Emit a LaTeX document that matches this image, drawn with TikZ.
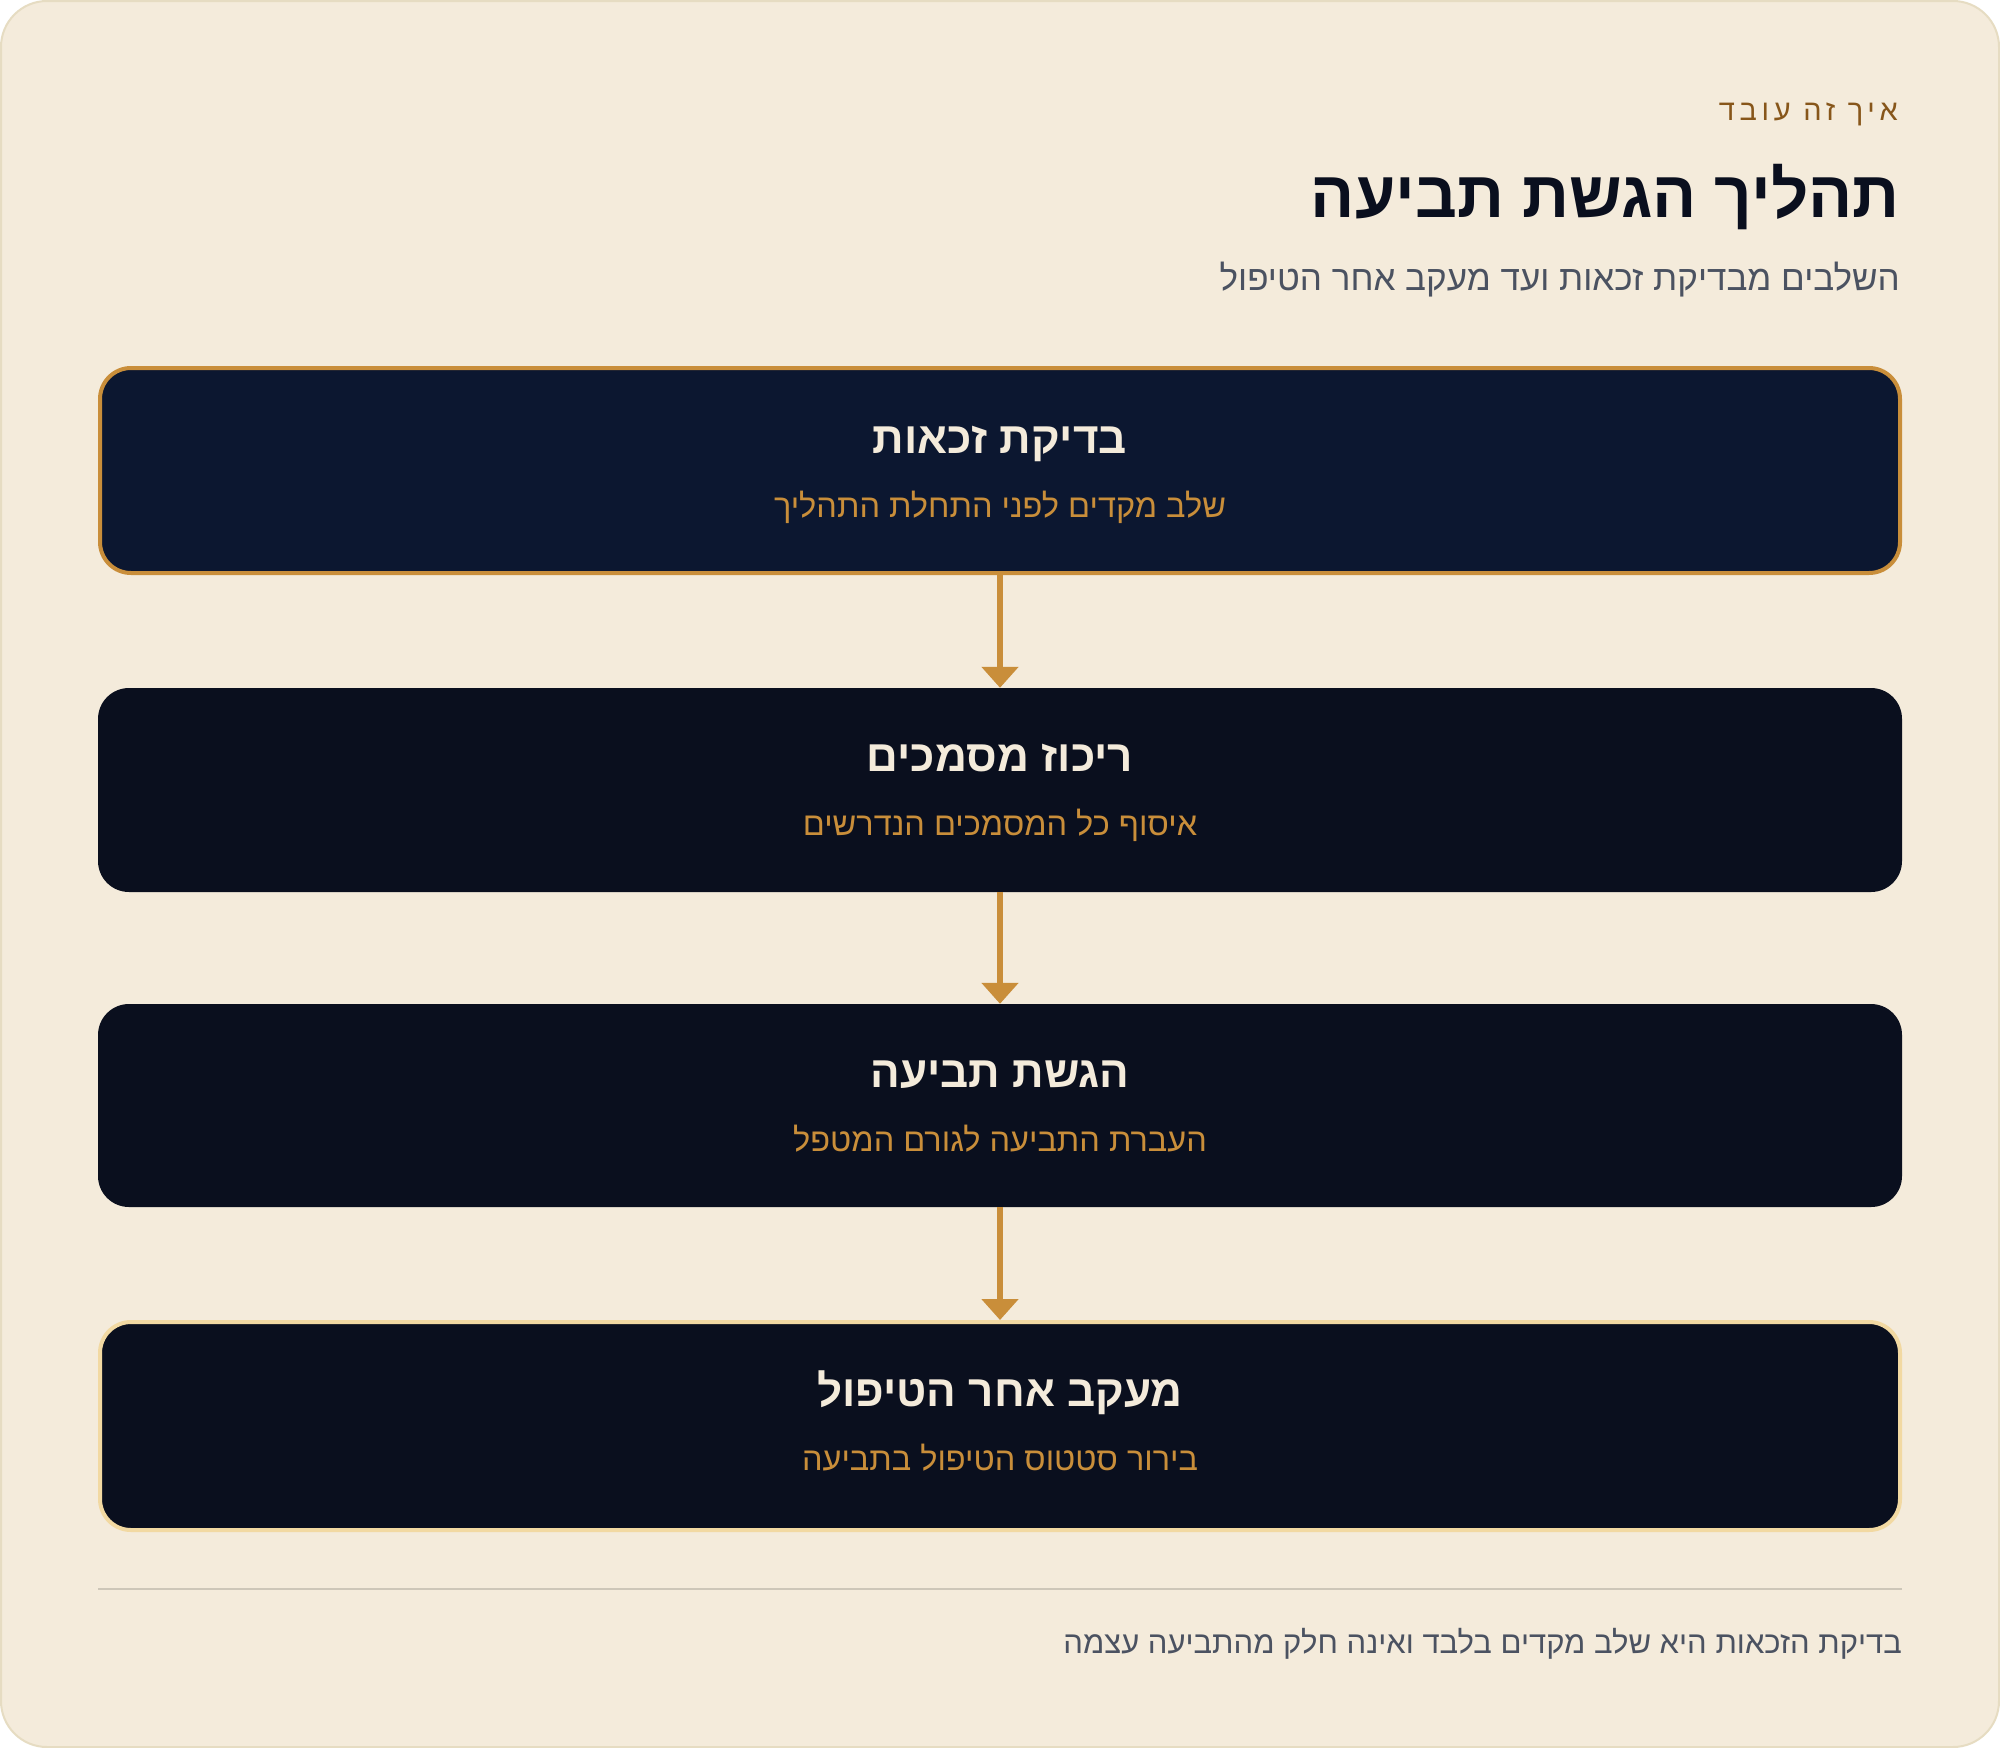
\documentclass[tikz,border=0pt]{standalone}
\usepackage{fontspec}
\usetikzlibrary{arrows.meta}
\TeXXeTstate=1
\newfontfamily\heb[Script=Hebrew]{Liberation Sans}
\newfontfamily\hebsp[Script=Hebrew,LetterSpace=16]{Liberation Sans}
\definecolor{cardbg}{HTML}{F4EBDB}
\definecolor{cardline}{HTML}{E6DCC2}
\definecolor{navy}{HTML}{0C1730}
\definecolor{ink}{HTML}{0A0F1E}
\definecolor{gold}{HTML}{C98E3A}
\definecolor{lightgold}{HTML}{F2D9A2}
\definecolor{cream}{HTML}{F4EBDB}
\definecolor{brown}{HTML}{87561A}
\definecolor{grayt}{HTML}{4B5261}
\definecolor{sep}{HTML}{CDC6B8}
\tikzset{
  stepbox/.style={rounded corners=31pt, minimum width=1804pt, minimum height=204pt, inner sep=0pt, fill=ink},
  stepframe/.style={line width=4pt, minimum width=1800pt},
  steptitle/.style={text=cream, font=\heb\bfseries\fontsize{44}{50}\selectfont, inner sep=0pt, anchor=base},
  stepsub/.style={text=gold, font=\heb\fontsize{32.5}{38}\selectfont, inner sep=0pt, anchor=base},
  flow/.style={draw=gold, line width=6pt, -{Triangle[width=36pt,length=21pt]}},
  hdr/.style={anchor=base east, inner sep=0pt}
}
\begin{document}
\begin{tikzpicture}[x=1pt,y=-1pt]
\useasboundingbox (0,0) rectangle (2000,1748);
\fill[white] (0,0) rectangle (2000,1748);
\draw[fill=cardbg, draw=cardline, line width=2pt, rounded corners=46pt] (1,1) rectangle (1999,1747);

\node[hdr, text=brown, font=\hebsp\fontsize{29}{34}\selectfont] (eyebrow) at (1898,120) {\beginR איך זה עובד\endR};
\node[hdr, text=ink, font=\heb\bfseries\fontsize{65.5}{72}\selectfont] (title) at (1900,217) {\beginR תהליך הגשת תביעה\endR};
\node[hdr, text=grayt, font=\heb\fontsize{35}{41}\selectfont] (subtitle) at (1900,290) {\beginR השלבים מבדיקת זכאות ועד מעקב אחר הטיפול\endR};

\node[stepbox, stepframe, minimum height=205pt, fill=navy, draw=gold] (b1) at (1000,470.5) {};
\node[stepbox] (b2) at (1000,790) {};
\node[stepbox, minimum height=203pt] (b3) at (1000,1105.5) {};
\node[stepbox, stepframe, minimum height=208pt, draw=lightgold] (b4) at (1000,1426) {};

\node[steptitle] (t1) at (1000,453) {\beginR בדיקת זכאות\endR};
\node[stepsub] (s1) at (1000,517) {\beginR שלב מקדים לפני התחלת התהליך\endR};
\node[steptitle] (t2) at (1000,771) {\beginR ריכוז מסמכים\endR};
\node[stepsub] (s2) at (1000,835) {\beginR איסוף כל המסמכים הנדרשים\endR};
\node[steptitle] (t3) at (1000,1087) {\beginR הגשת תביעה\endR};
\node[stepsub] (s3) at (1000,1151) {\beginR העברת התביעה לגורם המטפל\endR};
\node[steptitle] (t4) at (1000,1406) {\beginR מעקב אחר הטיפול\endR};
\node[stepsub] (s4) at (1000,1470) {\beginR בירור סטטוס הטיפול בתביעה\endR};

\draw[flow] (b1.south) -- (b2.north);
\draw[flow] (b2.south) -- (b3.north);
\draw[flow] (b3.south) -- (b4.north);

\coordinate (sepL) at (98,1589);
\coordinate (sepR) at (1902,1589);
\draw[sep, line width=2.5pt] (sepL) -- (sepR);
\node[hdr, text=grayt, font=\heb\fontsize{31}{36}\selectfont] (footer) at (1902,1653) {\beginR בדיקת הזכאות היא שלב מקדים בלבד ואינה חלק מהתביעה עצמה\endR};
\end{tikzpicture}
\end{document}
